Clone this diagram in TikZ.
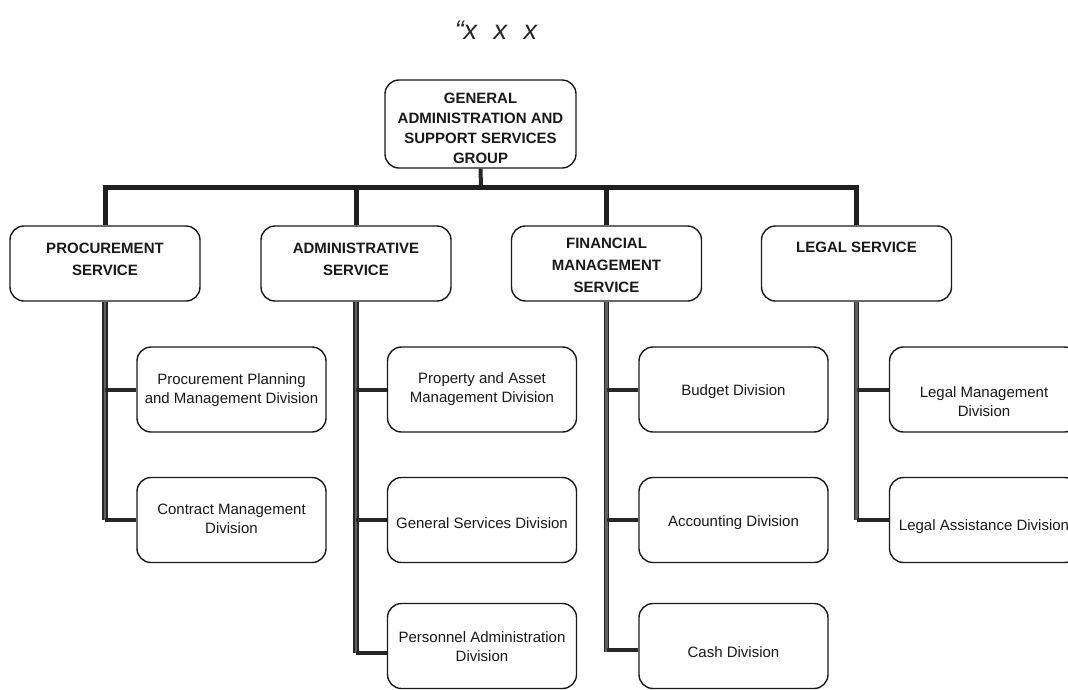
\documentclass[tikz,border=0pt]{standalone}
\usepackage{fontspec}
\setmainfont{Liberation Sans}
\begin{document}
\begin{tikzpicture}[x=1pt,y=-1pt,
  box/.style={draw=black!90, line width=1.4pt, rounded corners=14pt, fill=white, inner sep=0pt},
  topbox/.style={box, minimum width=191pt, minimum height=88pt},
  svcbox/.style={box, minimum width=190pt, minimum height=75pt},
  divbox/.style={box, minimum width=189pt, minimum height=85pt},
  headtxt/.style={font=\fontsize{15}{20}\selectfont\bfseries, align=center, text=black!90, inner sep=0pt},
  svctxt/.style={font=\fontsize{15}{22}\selectfont\bfseries, align=center, text=black!90, inner sep=0pt},
  divtxt/.style={font=\fontsize{15}{19}\selectfont, align=center, text=black!90, inner sep=0pt},
  bus/.style={line width=5pt, draw=black!88, line join=miter},
  spine/.style={draw=black!85, line width=1.6pt, double=black!62, double distance=2.6pt},
  stub/.style={line width=4pt, draw=black!85}
]
\useasboundingbox (0,0) rectangle (1068,689);
\clip (0,0) rectangle (1068,689);

% heading mark
\node[font=\fontsize{27}{30}\selectfont\itshape, text=black!85] (mark) at (496,30) {“x\,\, x\,\, x};

% group box
\node[topbox] (g) at (480.5,124) {};
\node[headtxt] (gt) at (480.5,128) {GENERAL\\ADMINISTRATION AND\\SUPPORT SERVICES\\GROUP};

% services
\node[svcbox] (p) at (105,263.5) {};
\node[svcbox] (a) at (356,263.5) {};
\node[svcbox] (f) at (606.5,263.5) {};
\node[svcbox] (l) at (856.5,263.5) {};
\node[svctxt] (pt) at (105,259) {PROCUREMENT\\SERVICE};
\node[svctxt] (at) at (356,259) {ADMINISTRATIVE\\SERVICE};
\node[svctxt] (ft) at (606.5,265) {FINANCIAL\\MANAGEMENT\\SERVICE};
\node[svctxt] (lt) at (856.5,247) {LEGAL SERVICE};

% divisions
\node[divbox] (p1) at (231.5,389.5) {};
\node[divbox] (p2) at (231.5,520) {};
\node[divbox] (a1) at (482,389.5) {};
\node[divbox] (a2) at (482,520) {};
\node[divbox] (a3) at (482,646) {};
\node[divbox] (f1) at (733.5,389.5) {};
\node[divbox] (f2) at (733.5,520) {};
\node[divbox] (f3) at (733.5,646) {};
\node[divbox] (l1) at (984,389.5) {};
\node[divbox] (l2) at (984,520) {};

\node[divtxt] (p1t) at (231.5,390) {Procurement Planning\\and Management Division};
\node[divtxt] (p2t) at (231.5,519) {Contract Management\\Division};
\node[divtxt] (a1t) at (482,389) {Property and Asset\\Management Division};
\node[divtxt] (a2t) at (482,523) {General Services Division};
\node[divtxt] (a3t) at (482,647) {Personnel Administration\\Division};
\node[divtxt] (f1t) at (733.5,392) {Budget Division};
\node[divtxt] (f2t) at (733.5,523) {Accounting Division};
\node[divtxt] (f3t) at (733.5,652) {Cash Division};
\node[divtxt] (l1t) at (984,402) {Legal Management\\Division};
\node[divtxt] (l2t) at (984,527) {Legal Assistance Division};

% main bus
\coordinate (busc) at (481,187);
\draw[stub] (g.south) -- (busc);
\draw[bus] (p.north) -- (p.north |- busc) -- (l.north |- busc) -- (l.north);
\draw[bus] (a.north |- busc) -- (a.north);
\draw[bus] (f.north |- busc) -- (f.north);

% spines
\draw[spine] (p.south) -- (p.south |- p2.west);
\draw[spine] (a.south) -- ([yshift=-7pt]a.south |- a3.west);
\draw[spine] (f.south) -- ([yshift=-6pt]f.south |- f3.west);
\draw[spine] (l.south) -- (l.south |- l2.west);

% stubs
\draw[stub] (p.south |- p1.west) -- (p1.west);
\draw[stub] (p.south |- p2.west) -- (p2.west);
\draw[stub] (a.south |- a1.west) -- (a1.west);
\draw[stub] (a.south |- a2.west) -- (a2.west);
\draw[stub] ([yshift=-7pt]a.south |- a3.west) -- ([yshift=-7pt]a3.west);
\draw[stub] (f.south |- f1.west) -- (f1.west);
\draw[stub] (f.south |- f2.west) -- (f2.west);
\draw[stub] ([yshift=-4pt]f.south |- f3.west) -- ([yshift=-4pt]f3.west);
\draw[stub] (l.south |- l1.west) -- (l1.west);
\draw[stub] (l.south |- l2.west) -- (l2.west);
\end{tikzpicture}
\end{document}
